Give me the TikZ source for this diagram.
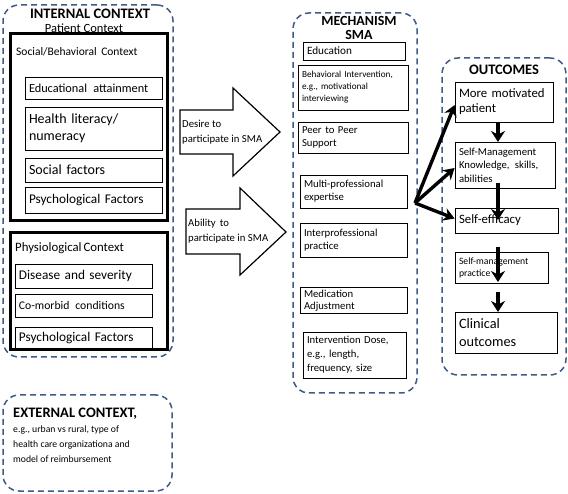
\documentclass[tikz,border=0pt]{standalone}
\usepackage{fontspec}
\setmainfont{Carlito}
\usetikzlibrary{arrows.meta}
\definecolor{dashblue}{RGB}{62,92,135}
\tikzset{
  dbox/.style={draw=dashblue, dash pattern=on 6pt off 4pt, line width=1.5pt, rounded corners=16pt},
  thick box/.style={draw=black, line width=3pt},
  tbox/.style={draw=black, line width=0.8pt, align=left, inner xsep=4pt, inner ysep=1pt},
  fan/.style={line width=3.4pt, -{Stealth[length=11pt,width=13pt]}},
  down/.style={line width=3.2pt, -{Stealth[length=11pt,width=14pt]}},
  barrow/.style={draw=black, line width=1.2pt, fill=white}
}
\begin{document}
\begin{tikzpicture}[x=1pt,y=-1pt]
\useasboundingbox (0,0) rectangle (568,494);
% ---------- internal context ----------
\node[dbox, minimum width=170, minimum height=352] (int) at (88,181) {};
\node[font=\fontsize{14.5}{16}\selectfont\bfseries, inner sep=0pt] (intt) at (90,14) {INTERNAL CONTEXT};
\node[font=\fontsize{12.5}{14}\selectfont, inner sep=0pt] (pat) at (84,28) {Patient Context};
\node[thick box, minimum width=157, minimum height=187] (sb) at (88.5,127.5) {};
\node[font=\fontsize{11.5}{13}\selectfont, anchor=west, inner sep=0pt] (sbt) at (16,52) {Social/Behavioral\, Context};
\node[tbox, minimum width=137, minimum height=22, text width=129, font=\fontsize{12.3}{14}\selectfont] (edu) at (93.5,88) {Educational\, attainment};
\node[tbox, minimum width=137, minimum height=43, text width=129, font=\fontsize{14}{17}\selectfont] (hl) at (93.5,128.5) {Health literacy/\\numeracy};
\node[tbox, minimum width=137, minimum height=24, text width=129, font=\fontsize{14}{15}\selectfont] (soc) at (93.5,170) {Social factors};
\node[tbox, minimum width=137, minimum height=26, text width=129, font=\fontsize{13.3}{15}\selectfont] (ps1) at (93.5,200) {Psychological Factors};
\node[thick box, minimum width=157, minimum height=117] (phys) at (88.5,291.5) {};
\node[font=\fontsize{12.8}{14}\selectfont, anchor=west, inner sep=0pt] (physt) at (15,248) {Physiological\kern-1pt\ Context};
\node[tbox, minimum width=137, minimum height=24, text width=129, font=\fontsize{13.3}{15}\selectfont] (dis) at (83.5,276) {Disease and severity};
\node[tbox, minimum width=137, minimum height=23, text width=129, font=\fontsize{11.7}{13}\selectfont] (com) at (83.5,305.5) {Co-morbid\, conditions};
\node[tbox, minimum width=137, minimum height=23, text width=129, font=\fontsize{13.3}{15}\selectfont] (ps2) at (83.5,338.5) {Psychological Factors};
% ---------- external context ----------
\node[dbox, minimum width=169, minimum height=96] (ext) at (87.5,443) {};
\node[font=\fontsize{9.7}{15}\selectfont, align=left, anchor=north west, inner sep=0pt] (extt) at (13,408)
  {{\fontsize{14.5}{16}\selectfont\bfseries EXTERNAL CONTEXT,}\\e.g., urban vs rural, type of\\health care organizationa and\\model of reimbursement};
% ---------- block arrows ----------
\draw[barrow] (180,110) -- (233,110) -- (233,88) -- (280,132) -- (233,176) -- (233,154) -- (180,154) -- cycle;
\node[font=\fontsize{10.7}{15}\selectfont, align=left, anchor=west, inner sep=0pt] (des) at (182,132) {Desire to\\participate in SMA};
\draw[barrow] (186,209) -- (240,209) -- (240,188) -- (286,232) -- (240,275) -- (240,254) -- (186,254) -- cycle;
\node[font=\fontsize{10.7}{15}\selectfont, align=left, anchor=west, inner sep=0pt] (abl) at (188,231) {Ability\, to\\participate in SMA};
% ---------- mechanism ----------
\node[dbox, minimum width=124, minimum height=380] (mech) at (355,203) {};
\node[font=\fontsize{14}{16}\selectfont\bfseries, inner sep=0pt] (mecht) at (359,20.5) {MECHANISM};
\node[font=\fontsize{14}{16}\selectfont\bfseries, inner sep=0pt] (mechs) at (359,35) {SMA};
\node[tbox, minimum width=102, minimum height=18, text width=94, font=\fontsize{11.2}{13}\selectfont] (m1) at (354,51) {Education};
\node[tbox, minimum width=110, minimum height=45, text width=102, font=\fontsize{9.2}{12}\selectfont] (m2) at (353,87.5) {Behavioral Intervention,\\e.g., motivational\\interviewing};
\node[tbox, minimum width=110, minimum height=31, text width=102, font=\fontsize{10.7}{13}\selectfont] (m3) at (353,137.5) {Peer to Peer\\Support};
\node[tbox, minimum width=107, minimum height=33, text width=99, font=\fontsize{10.7}{13}\selectfont] (m4) at (353.5,191.5) {Multi-professional\\expertise};
\node[tbox, minimum width=107, minimum height=34, text width=99, font=\fontsize{10.7}{13}\selectfont] (m5) at (353.5,240) {Interprofessional\\practice};
\node[tbox, minimum width=107, minimum height=26, text width=99, font=\fontsize{10.7}{12}\selectfont] (m6) at (353.5,300.5) {Medication\\Adjustment};
\node[tbox, minimum width=103, minimum height=46, text width=95, font=\fontsize{10.7}{14}\selectfont] (m7) at (354.5,355) {Intervention Dose,\\e.g., length,\\frequency, size};
% ---------- outcomes ----------
\node[dbox, minimum width=124, minimum height=317] (outc) at (504,216.5) {};
\node[font=\fontsize{14.5}{16}\selectfont\bfseries, inner sep=0pt] (outt) at (504,70) {OUTCOMES};
\node[tbox, minimum width=98, minimum height=40, text width=90, font=\fontsize{12.8}{15}\selectfont] (o1) at (504,102) {More motivated\\patient};
\node[tbox, minimum width=100, minimum height=46, text width=92, font=\fontsize{10.7}{13.5}\selectfont] (o2) at (505,165) {Self-Management\\Knowledge,\, skills,\\abilities};
\node[tbox, minimum width=103, minimum height=25, text width=95, font=\fontsize{12.8}{15}\selectfont] (o3) at (506.5,220.5) {Self-efficacy};
\node[tbox, minimum width=93, minimum height=31, text width=85, font=\fontsize{9.7}{12}\selectfont] (o4) at (501.5,267.5) {Self-management\\practice};
\node[tbox, minimum width=102, minimum height=41, text width=94, font=\fontsize{14.3}{18}\selectfont] (o5) at (506,332.5) {Clinical\\outcomes};
% down arrows
\coordinate (d1s) at (498,122); \coordinate (d1e) at (498,142);
\coordinate (d2s) at (498,183); \coordinate (d2e) at (498,220);
\coordinate (d3s) at (498,247); \coordinate (d3e) at (498,282);
\coordinate (d4s) at (498,292); \coordinate (d4e) at (498,312);
\draw[down] (d1s) -- (d1e);
\draw[down] (d2s) -- (d2e);
\draw[down] (d3s) -- (d3e);
\draw[down] (d4s) -- (d4e);
% fan arrows
\coordinate (fan) at (415,203);
\draw[fan] (fan) -- ([yshift=-3pt]o1.west);
\draw[fan] (fan) -- ([yshift=-3pt]o2.west);
\draw[fan] (fan) -- ([yshift=2pt]o3.west);
\end{tikzpicture}
\end{document}
